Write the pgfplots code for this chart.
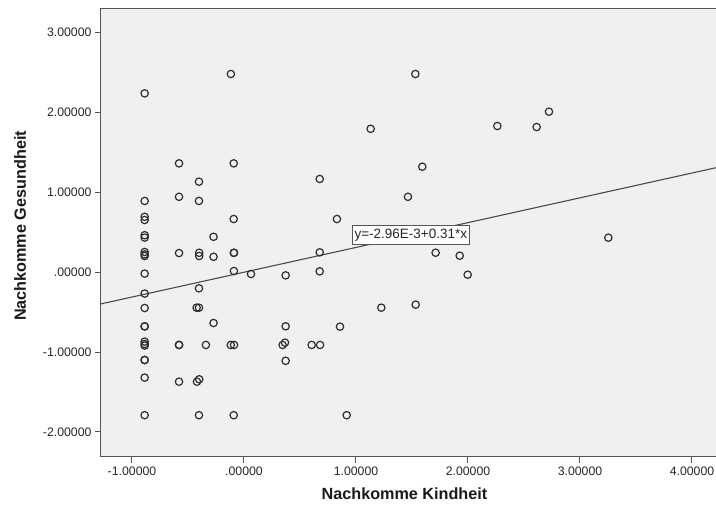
\documentclass[border=0pt]{standalone}
\usepackage{fontspec}
\setmainfont{Liberation Sans}
\usepackage{pgfplots}
\pgfplotsset{compat=1.18}
\definecolor{bggray}{HTML}{F0F0F0}
\definecolor{framegray}{HTML}{555555}
\definecolor{markgray}{HTML}{2E2E2E}
\definecolor{linegray}{HTML}{4A4A4A}
\begin{document}
\begin{tikzpicture}
\begin{axis}[
  at={(0,0)}, anchor=south west,
  scale only axis, width=620pt, height=449pt,
  xmin=-1.2768, xmax=4.259, ymin=-2.3125, ymax=3.3,
  axis background/.style={fill=bggray},
  axis line style={draw=framegray, line width=1pt},
  xtick={-1,0,1,2,3,4},
  xticklabels={-1.00000,.00000,1.00000,2.00000,3.00000,4.00000},
  ytick={-2,-1,0,1,2,3},
  yticklabels={-2.00000,-1.00000,.00000,1.00000,2.00000,3.00000},
  tick align=outside, tick pos=left, major tick length=6pt,
  tick style={draw=framegray, line width=1pt},
  ticklabel style={font=\fontsize{12.3}{14}\selectfont, text=black!85},
  xlabel={Nachkomme Kindheit},
  ylabel={Nachkomme Gesundheit},
  label style={font=\fontsize{16.2}{18}\selectfont\bfseries, text=black!90},
  xlabel style={at={(axis description cs:0.4895,0)}, anchor=center, yshift=-37pt},
  ylabel style={at={(axis description cs:0,0.5145)}, anchor=center, yshift=81pt},
  clip=true,
]
\addplot[linegray, line width=1.1pt] coordinates {(-1.2768,-0.3988) (4.259,1.3173)};
\addplot[only marks, mark=o, mark size=3.7pt, mark options={draw=markgray, line width=1.2pt}] coordinates {
(-0.887,2.233) (-0.887,0.888) (-0.887,0.69) (-0.887,0.65) (-0.887,0.46) (-0.887,0.43)
(-0.887,0.25) (-0.887,0.22) (-0.887,0.20) (-0.887,-0.02) (-0.887,-0.27) (-0.887,-0.45)
(-0.887,-0.68) (-0.887,-0.68) (-0.887,-0.87) (-0.887,-0.90) (-0.887,-0.92) (-0.887,-1.10)
(-0.887,-1.10) (-0.887,-1.32) (-0.887,-1.79)
(-0.58,1.358) (-0.58,0.94) (-0.58,0.237) (-0.58,-0.912) (-0.58,-0.912) (-0.58,-1.371)
(-0.402,1.129) (-0.402,0.888) (-0.40,0.24) (-0.40,0.20) (-0.402,-0.204) (-0.423,-0.446)
(-0.402,-0.446) (-0.42,-1.371) (-0.40,-1.341) (-0.402,-1.79)
(-0.34,-0.912)
(-0.272,0.44) (-0.272,0.19) (-0.272,-0.6375)
(-0.117,2.475)
(-0.092,1.358) (-0.092,0.6625) (-0.09,0.24) (-0.09,0.24) (-0.09,0.0125) (-0.118,-0.912)
(-0.089,-0.912) (-0.092,-1.79)
(0.0625,-0.025)
(0.372,-0.042) (0.372,-0.679) (0.345,-0.912) (0.366,-0.883) (0.372,-1.11)
(0.604,-0.912) (0.679,-0.912) (0.676,1.163) (0.676,0.246) (0.676,0.008)
(0.83,0.6625) (0.857,-0.683) (0.917,-1.79)
(1.131,1.79) (1.226,-0.446)
(1.464,0.94) (1.53,2.475) (1.533,-0.408) (1.592,1.316)
(1.711,0.241) (1.926,0.204) (1.997,-0.034)
(2.262,1.825) (2.613,1.812) (2.723,2.004)
(3.253,0.429)
};
\node[draw=framegray, fill=white, line width=0.8pt, inner xsep=2.5pt, inner ysep=3pt,
  font=\fontsize{13.5}{15}\selectfont, text=black!85] at (axis cs:1.49,0.4625) {y=-2.96E-3+0.31*x};
\end{axis}
\pgfresetboundingbox
\path (-101pt,-52pt) rectangle (615pt,457pt);
\end{tikzpicture}
\end{document}
